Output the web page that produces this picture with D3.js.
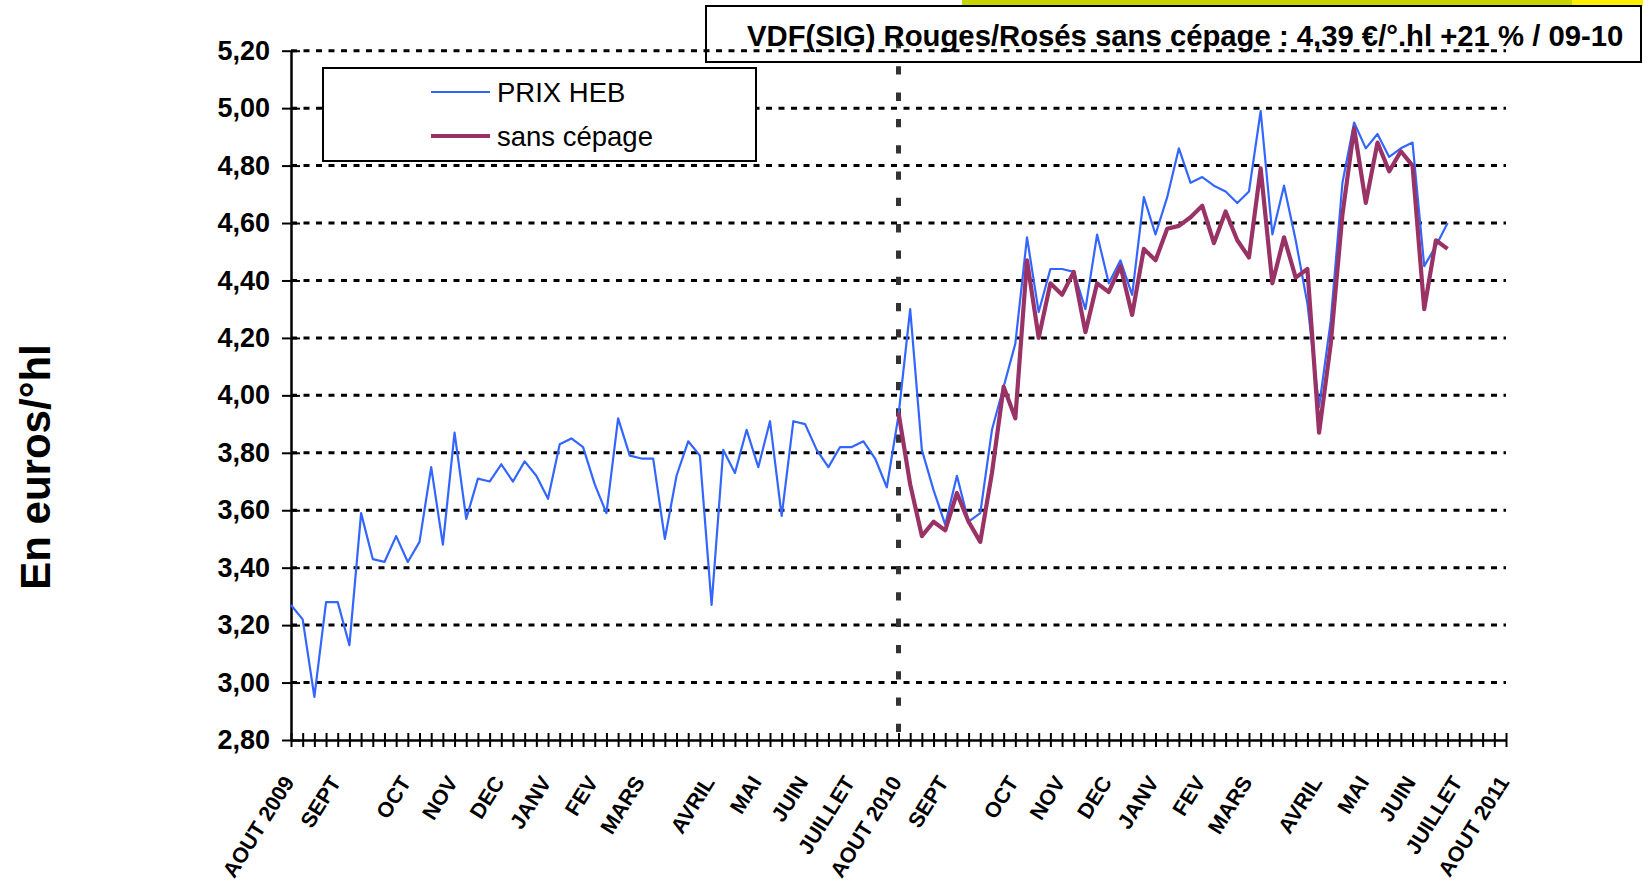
<!DOCTYPE html>
<meta charset="utf-8">
<script src="https://d3js.org/d3.v7.min.js"></script>
<style>
  body { margin: 0; background: #fff; }
  text { font-family: "Liberation Sans", Arial, sans-serif; }
</style>
<div id="chart"></div>
<script>

// weekly prices, one value per week from AOUT 2009
const prixHeb = [
  3.27, 3.22, 2.95, 3.28, 3.28, 3.13, 3.59, 3.43, 3.42, 3.51,
  3.42, 3.49, 3.75, 3.48, 3.87, 3.57, 3.71, 3.70, 3.76, 3.70,
  3.77, 3.72, 3.64, 3.83, 3.85, 3.82, 3.69, 3.59, 3.92, 3.79,
  3.78, 3.78, 3.50, 3.72, 3.84, 3.79, 3.27, 3.81, 3.73, 3.88,
  3.75, 3.91, 3.58, 3.91, 3.90, 3.81, 3.75, 3.82, 3.82, 3.84,
  3.78, 3.68, 3.93, 4.30, 3.81, 3.67, 3.55, 3.72, 3.56, 3.59,
  3.88, 4.03, 4.18, 4.55, 4.29, 4.44, 4.44, 4.43, 4.30, 4.56,
  4.39, 4.47, 4.35, 4.69, 4.56, 4.69, 4.86, 4.74, 4.76, 4.73,
  4.71, 4.67, 4.71, 4.99, 4.56, 4.73, 4.54, 4.32, 3.96, 4.26,
  4.74, 4.95, 4.86, 4.91, 4.83, 4.86, 4.88, 4.45, 4.52, 4.60
];

// "sans cépage" only starts at AOUT 2010 (week 52)
const sansCepageStart = 52;
const sansCepage = [
  3.94, 3.69, 3.51, 3.56, 3.53, 3.66, 3.56, 3.49, 3.73, 4.03,
  3.92, 4.47, 4.20, 4.39, 4.35, 4.43, 4.22, 4.39, 4.36, 4.45,
  4.28, 4.51, 4.47, 4.58, 4.59, 4.62, 4.66, 4.53, 4.64, 4.54,
  4.48, 4.79, 4.39, 4.55, 4.41, 4.44, 3.87, 4.18, 4.63, 4.93,
  4.67, 4.88, 4.78, 4.85, 4.80, 4.30, 4.54, 4.51
];

// month labels and the week they sit on
const monthLabels = ["AOUT 2009", "SEPT", "OCT", "NOV", "DEC", "JANV", "FEV", "MARS", "AVRIL", "MAI", "JUIN", "JUILLET",
  "AOUT 2010", "SEPT", "OCT", "NOV", "DEC", "JANV", "FEV", "MARS", "AVRIL", "MAI", "JUIN", "JUILLET", "AOUT 2011"];
const monthWeek = [0, 4, 10, 14, 18, 22, 26, 30, 36, 40, 44, 48,
  52, 56, 62, 66, 70, 74, 78, 82, 88, 92, 96, 100, 104];

const nWeeks = 105;
const yTicks = [2.8, 3.0, 3.2, 3.4, 3.6, 3.8, 4.0, 4.2, 4.4, 4.6, 4.8, 5.0, 5.2];

const title = "VDF(SIG) Rouges/Rosés sans cépage : 4,39 €/°.hl +21 % / 09-10";

const W = 1643, H = 883;
const plot = {left: 291, right: 1506, top: 50.7, bottom: 740};

const svg = d3.select("#chart")
  .append("svg")
  .attr("width", W)
  .attr("height", H)
  .style("display", "block");

svg.append("rect").attr("width", W).attr("height", H).attr("fill", "#fff");

const x = d3.scalePoint()
  .domain(d3.range(nWeeks))
  .range([plot.left, plot.right]);

const y = d3.scaleLinear()
  .domain([2.8, 5.2])
  .range([plot.bottom, plot.top]);

const comma = d => d3.format(".2f")(d).replace(".", ",");

// horizontal dotted gridlines
svg.append("g")
  .selectAll("line")
  .data(yTicks.slice(1))
  .join("line")
  .attr("x1", plot.left)
  .attr("x2", plot.right)
  .attr("y1", d => y(d))
  .attr("y2", d => y(d))
  .attr("stroke", "#000")
  .attr("stroke-width", 3)
  .attr("stroke-dasharray", "6,6.5");

// y axis, ticks crossing the line
const yAxis = svg.append("g")
  .attr("transform", `translate(${plot.left},0)`)
  .call(d3.axisLeft(y).tickValues(yTicks).tickSize(9).tickSizeOuter(0).tickPadding(12).tickFormat(comma));
yAxis.select(".domain").attr("stroke-width", 2.5);
yAxis.selectAll(".tick line").attr("x1", 9).attr("stroke-width", 2);
yAxis.selectAll(".tick text")
  .attr("font-family", "'Liberation Sans', Arial, sans-serif")
  .attr("font-size", 27)
  .attr("font-weight", "bold")
  .attr("fill", "#000");

// x axis, one tick per week
const xAxis = svg.append("g")
  .attr("transform", `translate(0,${plot.bottom})`)
  .call(d3.axisBottom(x).tickSize(7).tickSizeOuter(0).tickFormat(""));
xAxis.select(".domain").attr("stroke-width", 2.5);
xAxis.selectAll(".tick line").attr("y1", -7).attr("stroke-width", 2);

// rotated month labels
svg.append("g")
  .selectAll("text")
  .data(monthLabels)
  .join("text")
  .attr("transform", (d, i) => `translate(${x(monthWeek[i]) + 4},${plot.bottom + 42}) rotate(-58)`)
  .attr("text-anchor", "end")
  .attr("font-size", 21.5)
  .attr("font-weight", "bold")
  .text(d => d);

// y axis title
svg.append("text")
  .attr("transform", `translate(50,467) rotate(-90)`)
  .attr("text-anchor", "middle")
  .attr("font-size", 42)
  .attr("font-weight", "bold")
  .text("En euros/°hl");

// vertical dashed marker at AOUT 2010
svg.append("line")
  .attr("x1", x(52)).attr("x2", x(52))
  .attr("y1", 40).attr("y2", 750)
  .attr("stroke", "#333")
  .attr("stroke-width", 5)
  .attr("stroke-dasharray", "8.3,18");

// series lines
const line = d3.line()
  .x(d => x(d.i))
  .y(d => y(d.v));

svg.append("path")
  .datum(prixHeb.map((v, i) => ({i: i, v: v})))
  .attr("d", line)
  .attr("fill", "none")
  .attr("stroke", "#3366ff")
  .attr("stroke-width", 2.2)
  .attr("stroke-linejoin", "round");

svg.append("path")
  .datum(sansCepage.map((v, i) => ({i: i + sansCepageStart, v: v})))
  .attr("d", line)
  .attr("fill", "none")
  .attr("stroke", "#993366")
  .attr("stroke-width", 4.2)
  .attr("stroke-linejoin", "round");

// legend
const legend = svg.append("g");
legend.append("rect")
  .attr("x", 323).attr("y", 68)
  .attr("width", 433).attr("height", 93)
  .attr("fill", "#fff")
  .attr("stroke", "#000")
  .attr("stroke-width", 2);

const legendItems = [
  {name: "PRIX HEB", color: "#3366ff", width: 2.2},
  {name: "sans cépage", color: "#993366", width: 4.2}
];
legendItems.forEach((d, i) => {
  const ly = 92 + i * 44;
  legend.append("line")
    .attr("x1", 431).attr("x2", 490)
    .attr("y1", ly).attr("y2", ly)
    .attr("stroke", d.color)
    .attr("stroke-width", d.width);
  legend.append("text")
    .attr("x", 497).attr("y", ly)
    .attr("dy", "0.35em")
    .attr("font-size", 27.5)
    .text(d.name);
});

// title box with the coloured strip above it
svg.append("rect").attr("x", 962).attr("y", 0).attr("width", 610).attr("height", 6).attr("fill", "#c8d400");
svg.append("rect").attr("x", 1572).attr("y", 0).attr("width", 71).attr("height", 6).attr("fill", "#ffee00");
svg.append("rect")
  .attr("x", 706).attr("y", 6)
  .attr("width", 935).attr("height", 56)
  .attr("fill", "none")
  .attr("stroke", "#000")
  .attr("stroke-width", 2);

// narrow bold title: squeeze horizontally to the box width
const titleText = svg.append("text")
  .attr("x", 0).attr("y", 0)
  .attr("font-size", 30)
  .attr("font-weight", "bold")
  .text(title);
const natural = titleText.node().getComputedTextLength();
titleText.attr("transform", `translate(747,46) scale(${877 / natural},1)`);

</script>
